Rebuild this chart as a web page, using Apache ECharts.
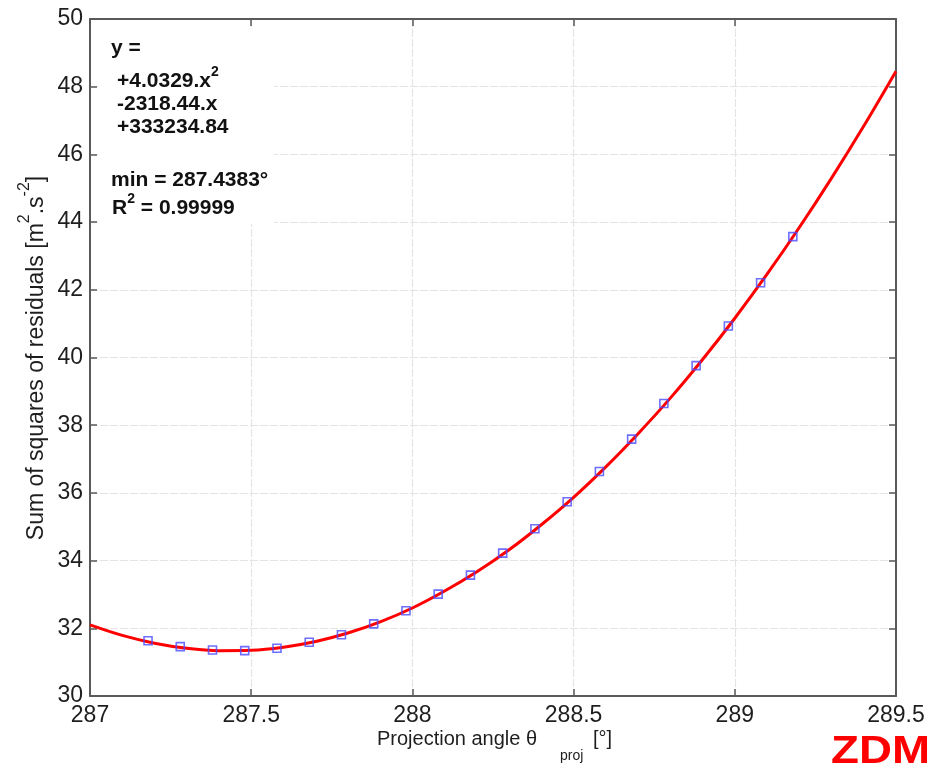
<!DOCTYPE html>
<html>
<head>
<meta charset="utf-8">
<script src="https://cdn.jsdelivr.net/npm/echarts@6/dist/echarts.min.js"></script>
<style>
  html, body { margin: 0; padding: 0; background: #ffffff; }
  #chart { width: 931px; height: 766px; }
</style>
</head>
<body>
<div id="chart"></div>
<script>
const FONT = '"Liberation Sans", Arial, Helvetica, sans-serif';

// Fitted quadratic, sampled along the projection angle
const curveAngle = [287.0, 287.1, 287.2, 287.3, 287.4, 287.5, 287.6, 287.7, 287.8, 287.9,
                    288.0, 288.1, 288.2, 288.3, 288.4, 288.5, 288.6, 288.7, 288.8, 288.9,
                    289.0, 289.1, 289.2, 289.3, 289.4, 289.5];
const curveSSR   = [32.10, 31.79, 31.56, 31.41, 31.34, 31.35, 31.44, 31.61, 31.86, 32.19,
                    32.60, 33.10, 33.67, 34.32, 35.06, 35.87, 36.77, 37.75, 38.80, 39.94,
                    41.16, 42.46, 43.84, 45.30, 46.84, 48.46];

// Computed residual sums at each tested angle
const pointAngle = [287.18, 287.28, 287.38, 287.48, 287.58, 287.68, 287.78, 287.88, 287.98, 288.08,
                    288.18, 288.28, 288.38, 288.48, 288.58, 288.68, 288.78, 288.88, 288.98, 289.08,
                    289.18];
const pointSSR   = [31.63, 31.46, 31.36, 31.34, 31.41, 31.59, 31.81, 32.13, 32.52, 33.01,
                    33.57, 34.22, 34.94, 35.74, 36.63, 37.59, 38.64, 39.76, 40.93, 42.21,
                    43.57];

// Axis ranges: [min, max, step]
const angleTicks = [287, 289.5, 0.5];
const ssrTicks   = [30, 50, 2];

// Fit summary lines
const fitLines = [
  [{ text: 'y =' }],
  [{ text: '+4.0329.x' }, { text: '2', sup: true }],
  [{ text: '-2318.44.x' }],
  [{ text: '+333234.84' }],
  [{ text: 'min = 287.4383\u00b0' }],
  [{ text: 'R' }, { text: '2', sup: true }, { text: ' = 0.99999' }]
];

const measureCtx = document.createElement('canvas').getContext('2d');
function textWidth(t, size, weight) {
  measureCtx.font = (weight || 'normal') + ' ' + size + 'px ' + FONT;
  return measureCtx.measureText(t).width;
}

// Lay out a run of text pieces (normal / raised / lowered) left to right
function textRun(parts, opts) {
  let cx = 0;
  const children = parts.map(p => {
    if (p.at !== undefined) cx = p.at;
    const el = {
      type: 'text', x: cx, y: p.dy || 0, z: 20,
      style: {
        text: p.text, fontSize: p.size, fontWeight: p.weight || 'normal',
        fontFamily: FONT, fill: opts.color, align: 'left', verticalAlign: 'middle'
      }
    };
    cx += textWidth(p.text, p.size, p.weight);
    return el;
  });
  if (opts.center) children.forEach(c => { c.x -= cx / 2; });
  return {
    type: 'group', x: opts.x, y: opts.y, rotation: opts.rotation || 0,
    z: 20, children: children
  };
}

const textColor = '#1e1e1e';
const axisColor = '#5a5a5a';

const graphics = [];
// white panel behind the fit summary
graphics.push({
  type: 'rect', z: 1,
  shape: { x: 98, y: 27, width: 176, height: 197 },
  style: { fill: '#ffffff' }
});

const lineX = [111, 117, 117, 117, 111, 112];
const lineY = [48, 81, 104, 127, 180, 208];
fitLines.forEach((line, i) => {
  graphics.push(textRun(line.map(p => ({
    text: p.text,
    size: p.sup ? 14 : 21,
    weight: 'bold',
    dy: p.sup ? -9 : 0
  })), { x: lineX[i], y: lineY[i], color: '#111111' }));
});

// x-axis title with subscript
graphics.push(textRun([
  { text: 'Projection angle \u03b8', size: 20 },
  { text: 'proj', size: 14, dy: 17, at: 183 },
  { text: '[\u00b0]', size: 20, at: 216 }
], { x: 377, y: 739, color: textColor }));

// y-axis title with superscripts, reading bottom to top
graphics.push(textRun([
  { text: 'Sum of squares of residuals [m', size: 23 },
  { text: '2', size: 16, dy: -12 },
  { text: '.s', size: 23 },
  { text: '-2', size: 16, dy: -12 },
  { text: ']', size: 23 }
], { x: 37, y: 358, rotation: Math.PI / 2, center: true, color: textColor }));

// logo mark
const zdmSize = 38;
graphics.push({
  type: 'text', z: 20, x: 831, y: 753,
  scaleX: 99 / textWidth('ZDM', zdmSize, 'bold'),
  style: {
    text: 'ZDM', fontSize: zdmSize, fontWeight: 'bold', fontFamily: FONT,
    fill: '#ff0000', align: 'left', verticalAlign: 'middle'
  }
});

function xAxisDef(pos, withLabels) {
  return {
    type: 'value', position: pos,
    min: angleTicks[0], max: angleTicks[1], interval: angleTicks[2],
    axisLine: { show: true, onZero: false, lineStyle: { color: axisColor, width: 2 } },
    axisTick: { show: true, inside: true, length: 7, lineStyle: { color: axisColor, width: 1.5 } },
    axisLabel: {
      show: withLabels, fontSize: 23, fontFamily: FONT, color: '#1e1e1e', margin: 8,
      showMinLabel: true, showMaxLabel: true
    },
    splitLine: { show: withLabels, lineStyle: { color: '#e4e4e4', width: 1.2, type: [8, 2] } }
  };
}
function yAxisDef(pos, withLabels) {
  return {
    type: 'value', position: pos,
    min: ssrTicks[0], max: ssrTicks[1], interval: ssrTicks[2],
    axisLine: { show: true, onZero: false, lineStyle: { color: axisColor, width: 2 } },
    axisTick: { show: true, inside: true, length: 7, lineStyle: { color: axisColor, width: 1.5 } },
    axisLabel: {
      show: withLabels, fontSize: 23, fontFamily: FONT, color: '#1e1e1e', margin: 7,
      showMinLabel: true, showMaxLabel: true
    },
    splitLine: { show: withLabels, lineStyle: { color: '#e4e4e4', width: 1.2, type: [8, 2] } }
  };
}

const chart = echarts.init(document.getElementById('chart'), null, { renderer: 'canvas' });
chart.setOption({
  animation: false,
  backgroundColor: '#ffffff',
  grid: { left: 90, right: 35, top: 19, bottom: 70, show: false },
  xAxis: [xAxisDef('bottom', true), xAxisDef('top', false)],
  yAxis: [yAxisDef('left', true), yAxisDef('right', false)],
  series: [
    {
      type: 'line', name: 'fit',
      xAxisIndex: 0, yAxisIndex: 0,
      data: curveAngle.map((a, i) => [a, curveSSR[i]]),
      smooth: 0.35, showSymbol: false, z: 3,
      lineStyle: { color: '#ff0000', width: 3 }
    },
    {
      type: 'scatter', name: 'points',
      xAxisIndex: 0, yAxisIndex: 0,
      data: pointAngle.map((a, i) => [a, pointSSR[i]]),
      symbol: 'rect', symbolSize: 8, z: 4,
      itemStyle: { color: 'rgba(0,0,0,0)', borderColor: '#4a4aff', borderWidth: 1.6 }
    }
  ],
  graphic: graphics
});
</script>
</body>
</html>
